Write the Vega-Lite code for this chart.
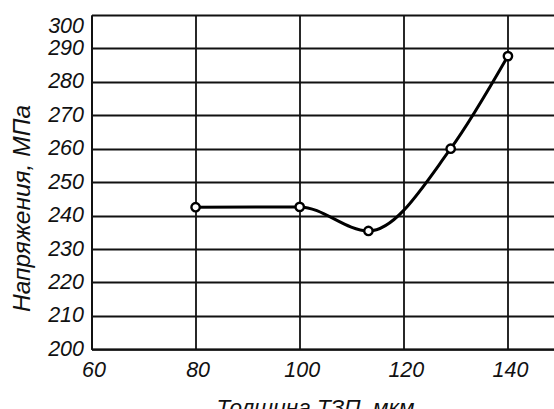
{
  "$schema": "https://vega.github.io/schema/vega-lite/v6.json",
  "autosize": {"type": "none"},
  "padding": {"left": 91.5, "top": 15, "right": 0, "bottom": 59.7},
  "width": 462.5,
  "height": 334.3,
  "background": "white",
  "config": {
    "view": {"stroke": null},
    "font": "Liberation Sans",
    "axis": {
      "labelFont": "Liberation Sans",
      "titleFont": "Liberation Sans",
      "labelFontStyle": "italic",
      "titleFontStyle": "italic",
      "titleFontWeight": "normal",
      "labelFontSize": 21.5,
      "labelColor": "#111",
      "titleColor": "#111",
      "gridColor": "#111",
      "gridWidth": 1.8,
      "gridOpacity": 1,
      "domainColor": "#111",
      "domainWidth": 2,
      "ticks": false,
      "labelFlush": false
    }
  },
  "data": {"values": [
    {"t": 80, "s": 242.5},
    {"t": 100, "s": 242.6},
    {"t": 113.2, "s": 235.4},
    {"t": 129, "s": 260},
    {"t": 140, "s": 287.7}
  ]},
  "encoding": {
    "x": {"field": "t", "type": "quantitative",
      "scale": {"domain": [60, 148.85], "nice": false, "zero": false},
      "axis": {"title": "Толщина ТЗП, мкм", "values": [60, 80, 100, 120, 140],
        "labelPadding": 10, "labelOffset": 2, "titleFontSize": 22.5, "titleX": 223.5, "titleY": 65.5, "titleBaseline": "alphabetic", "titleAnchor": null}},
    "y": {"field": "s", "type": "quantitative",
      "scale": {"domain": [200, 300], "nice": false, "zero": false},
      "axis": {"title": "Напряжения, МПа", "values": [200, 210, 220, 230, 240, 250, 260, 270, 280, 290, 300],
        "labelPadding": 8,
        "labelBaseline": {"condition": {"test": "datum.value == 300", "value": "top"}, "value": "middle"},
        "titleFontSize": 24.5, "titleX": -69, "titleY": 193, "titleBaseline": "middle", "titleAlign": "center", "titleAngle": 270}}
  },
  "layer": [
    {"mark": {"type": "line", "interpolate": "monotone", "color": "#000", "strokeWidth": 3}},
    {"mark": {"type": "point", "shape": "circle", "filled": true, "fill": "white", "stroke": "#000", "strokeWidth": 2.4, "size": 70, "opacity": 1}}
  ]
}
